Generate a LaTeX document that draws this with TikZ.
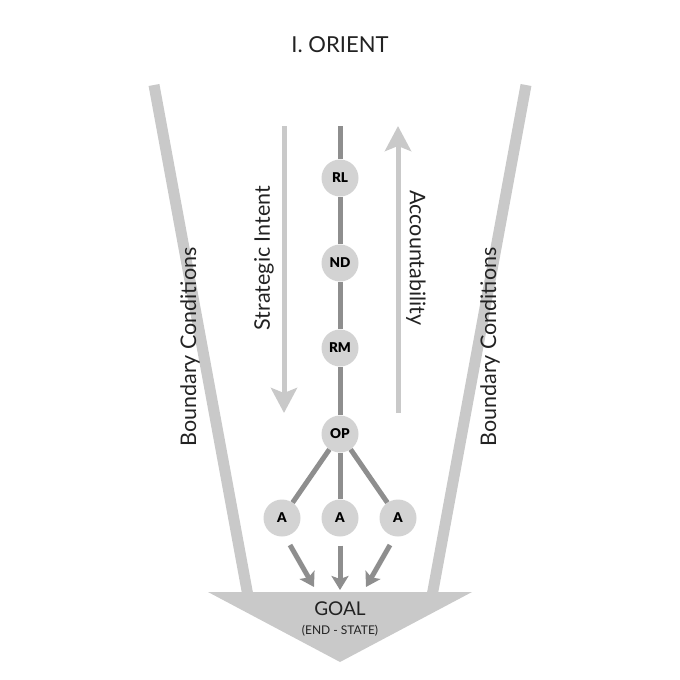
\documentclass[tikz,border=0pt]{standalone}
\usepackage{fontspec}
\setmainfont{Lato}
\newfontfamily\heavyfont{Lato Black}
\usetikzlibrary{arrows.meta}

\definecolor{barGray}{HTML}{C9C9C9}
\definecolor{lineGray}{HTML}{8E8E8E}
\definecolor{nodeGray}{HTML}{D3D3D3}
\definecolor{inkGray}{HTML}{222222}

\tikzset{
	role/.style={circle, fill=nodeGray, minimum size=37pt, inner sep=0pt, text=black, font=\heavyfont\fontsize{13.5}{13.5}\selectfont},
	chain/.style={draw=lineGray, line width=5pt},
	flow/.style={draw=barGray, line width=5pt, -{Stealth[length=25pt, width=26pt, inset=5pt]}},
	effort/.style={draw=lineGray, line width=5pt, -{Stealth[length=14pt, width=17pt, inset=3pt]}},
	bound/.style={draw=barGray, line width=11pt},
	caption/.style={text=inkGray, font=\fontsize{21.5}{21.5}\selectfont}
}

\begin{document}
\begin{tikzpicture}[x=1pt, y=-1pt]
	\useasboundingbox (0, 0) rectangle (680, 680);

	% funnel walls
	\draw[bound] (154, 85) -- (248, 596);
	\draw[bound] (526, 85) -- (432, 596);

	% goal
	\fill[barGray] (208, 592) -- (472, 592) -- (340, 662) -- cycle;
	\node[text=inkGray, font=\fontsize{19}{19}\selectfont] (goal) at (340, 609) {GOAL};
	\node[text=inkGray, font=\fontsize{12}{12}\selectfont] (state) at (340, 631) {(END - STATE)};

	% chain of command
	\coordinate (top) at (340, 126);
	\node[role] (rl) at (340, 178) {RL};
	\node[role] (nd) at (340, 263) {ND};
	\node[role] (rm) at (340, 348) {RM};
	\node[role] (op) at (340, 434) {OP};
	\node[role] (a1) at (282, 518) {A};
	\node[role] (a2) at (340, 518) {A};
	\node[role] (a3) at (398, 518) {A};

	\draw[chain] (top) -- (rl);
	\draw[chain] (rl) -- (nd);
	\draw[chain] (nd) -- (rm);
	\draw[chain] (rm) -- (op);
	\draw[chain] (op) -- (a1);
	\draw[chain] (op) -- (a2);
	\draw[chain] (op) -- (a3);

	% efforts into the goal
	\coordinate (g1) at (314, 587);
	\coordinate (g2) at (340, 590);
	\coordinate (g3) at (366, 587);
	\draw[effort] (290, 545) -- (g1);
	\draw[effort] (a2.south) ++(0, 9) -- (g2);
	\draw[effort] (390, 545) -- (g3);

	% intent down, accountability up
	\coordinate (si0) at (284, 126);
	\coordinate (si1) at (284, 413);
	\coordinate (ac0) at (398, 413);
	\coordinate (ac1) at (398, 126);
	\draw[flow] (si0) -- (si1);
	\draw[flow] (ac0) -- (ac1);

	\node[caption, rotate=90] (si) at (264, 258) {Strategic Intent};
	\node[caption, rotate=-90] (ac) at (416, 258) {Accountability};
	\node[caption, rotate=90] (bl) at (190, 347) {Boundary Conditions};
	\node[caption, rotate=90] (br) at (490, 347) {Boundary Conditions};

	\node[text=inkGray, font=\fontsize{22}{22}\selectfont] (title) at (340, 45) {I. ORIENT};

\end{tikzpicture}
\end{document}
